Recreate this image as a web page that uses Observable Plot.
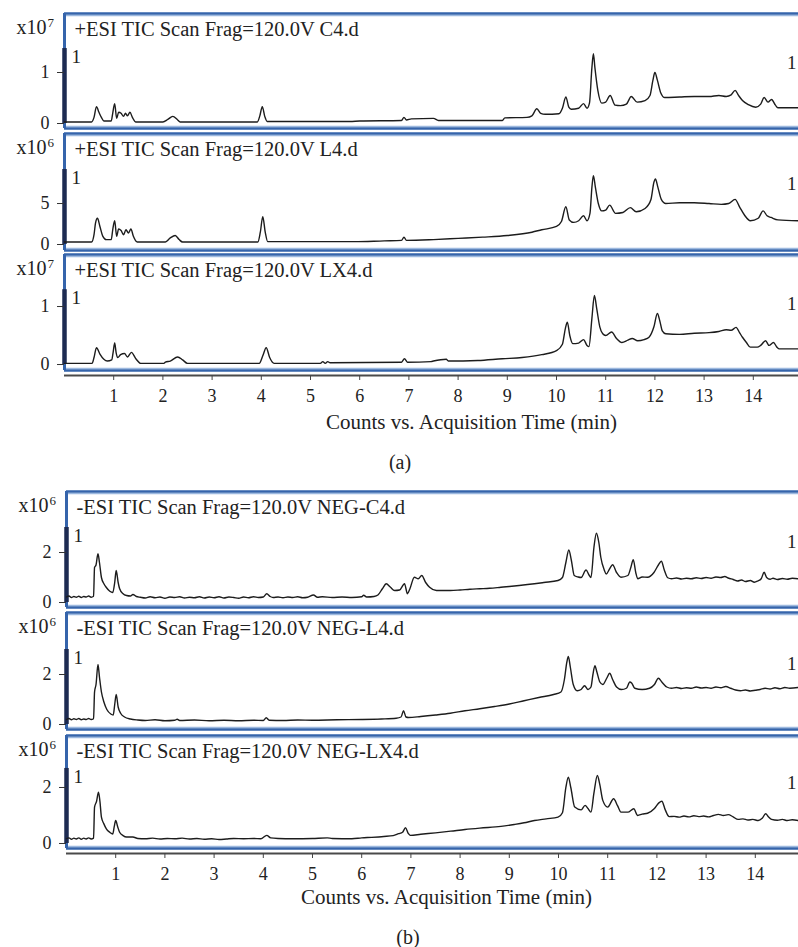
<!DOCTYPE html>
<html><head><meta charset="utf-8">
<script src="https://cdn.jsdelivr.net/npm/d3@7"></script>
<script src="https://cdn.jsdelivr.net/npm/@observablehq/plot@0.6"></script>
<style>
body{margin:0;background:#fff;}
#chart{position:relative;width:798px;height:947px;overflow:hidden;font-family:"Liberation Serif","DejaVu Serif",serif;color:#222;}
#chart svg{position:absolute;left:0;}
.cap{position:absolute;font-size:20px;transform:translate(-50%,-50%);white-space:nowrap;}
</style></head><body><div id="chart"></div>
<script>
// ---------- DATA (time in min, counts in panel units x10^n) ----------
const panelTitles = [
  "+ESI TIC Scan Frag=120.0V C4.d",
  "+ESI TIC Scan Frag=120.0V L4.d",
  "+ESI TIC Scan Frag=120.0V LX4.d",
  "-ESI TIC Scan Frag=120.0V NEG-C4.d",
  "-ESI TIC Scan Frag=120.0V NEG-L4.d",
  "-ESI TIC Scan Frag=120.0V NEG-LX4.d"
];
const exponents = ["7","6","7","6","6","6"];
const yTicks = [[0,1],[0,5],[0,1],[0,2],[0,2],[0,2]];
const xTicks = [1,2,3,4,5,6,7,8,9,10,11,12,13,14];
const axisTitle = "Counts vs. Acquisition Time (min)";
const groupLabels = ["(a)","(b)"];

const posC4 = [[0,0.03],[0.55,0.03],[0.6,0.12],[0.65,0.33],[0.7,0.22],[0.75,0.12],[0.8,0.05],[0.95,0.05],[0.98,0.2],[1.02,0.39],[1.06,0.1],[1.1,0.22],[1.15,0.2],[1.2,0.14],[1.24,0.2],[1.28,0.15],[1.33,0.22],[1.38,0.12],[1.45,0.03],[2.0,0.03],[2.1,0.08],[2.2,0.14],[2.3,0.07],[2.35,0.03],[3.92,0.03],[3.97,0.15],[4.02,0.33],[4.07,0.14],[4.12,0.04],[5.8,0.04],[6.0,0.05],[6.85,0.06],[6.9,0.12],[6.95,0.07],[7.05,0.09],[7.5,0.1],[7.6,0.06],[8.9,0.06],[8.95,0.11],[9.4,0.12],[9.5,0.15],[9.6,0.29],[9.68,0.2],[9.77,0.18],[10.05,0.19],[10.12,0.3],[10.19,0.52],[10.25,0.32],[10.3,0.28],[10.45,0.3],[10.55,0.39],[10.62,0.3],[10.67,0.4],[10.72,1.1],[10.75,1.37],[10.78,1.1],[10.84,0.65],[10.92,0.4],[11.0,0.42],[11.09,0.55],[11.19,0.36],[11.3,0.35],[11.42,0.38],[11.52,0.53],[11.64,0.42],[11.8,0.45],[11.9,0.55],[11.96,0.85],[12.0,1.0],[12.05,0.85],[12.12,0.6],[12.2,0.51],[12.5,0.52],[12.8,0.53],[13.1,0.53],[13.3,0.55],[13.45,0.53],[13.55,0.56],[13.63,0.65],[13.7,0.55],[13.78,0.45],[13.9,0.37],[14.05,0.32],[14.15,0.38],[14.22,0.51],[14.3,0.42],[14.37,0.47],[14.45,0.36],[14.5,0.31],[14.92,0.31]];

const posL4 = [[0,0.3],[0.55,0.3],[0.6,1.2],[0.63,2.6],[0.67,3.2],[0.72,2.2],[0.78,1.0],[0.85,0.6],[0.95,0.6],[0.98,1.8],[1.02,2.9],[1.06,1.0],[1.1,1.9],[1.15,1.7],[1.2,1.2],[1.25,1.8],[1.3,1.4],[1.35,1.9],[1.4,1.0],[1.48,0.3],[2.05,0.3],[2.15,0.8],[2.25,1.1],[2.33,0.6],[2.4,0.3],[3.93,0.3],[3.98,1.5],[4.03,3.4],[4.08,1.5],[4.13,0.35],[5.9,0.35],[6.5,0.45],[6.85,0.5],[6.9,0.9],[6.95,0.5],[7.5,0.6],[8.0,0.75],[8.5,0.9],[9.0,1.1],[9.5,1.5],[9.7,1.8],[10.0,2.2],[10.1,2.8],[10.19,4.6],[10.26,3.0],[10.35,2.7],[10.45,2.9],[10.55,3.5],[10.62,2.9],[10.68,3.8],[10.72,7.0],[10.75,8.4],[10.79,7.0],[10.85,5.0],[10.92,4.1],[11.0,4.2],[11.08,4.8],[11.2,3.8],[11.35,3.9],[11.5,4.5],[11.62,4.0],[11.8,4.4],[11.92,5.5],[11.98,7.6],[12.01,8.0],[12.06,7.0],[12.13,5.5],[12.22,5.0],[12.5,5.1],[12.8,5.1],[13.1,5.0],[13.35,4.9],[13.5,5.0],[13.63,5.5],[13.72,4.6],[13.82,3.6],[13.94,2.9],[14.1,3.2],[14.2,4.1],[14.28,3.5],[14.36,3.3],[14.5,3.0],[14.92,2.9]];

const posLX4 = [[0,0.02],[0.56,0.02],[0.6,0.12],[0.65,0.29],[0.72,0.18],[0.8,0.09],[0.87,0.06],[0.96,0.08],[0.99,0.22],[1.02,0.37],[1.05,0.2],[1.08,0.12],[1.14,0.17],[1.22,0.19],[1.28,0.13],[1.36,0.21],[1.45,0.1],[1.55,0.02],[2.02,0.02],[2.05,0.04],[2.15,0.06],[2.3,0.13],[2.4,0.08],[2.5,0.02],[3.96,0.02],[4.03,0.15],[4.1,0.29],[4.17,0.12],[4.26,0.02],[5.2,0.02],[5.25,0.05],[5.3,0.02],[5.35,0.05],[5.4,0.03],[6.85,0.04],[6.91,0.1],[6.97,0.04],[7.45,0.05],[7.5,0.06],[7.76,0.09],[7.8,0.06],[8.4,0.07],[8.9,0.1],[9.3,0.12],[9.7,0.17],[10.0,0.24],[10.12,0.35],[10.18,0.62],[10.22,0.73],[10.27,0.5],[10.33,0.36],[10.45,0.37],[10.55,0.43],[10.62,0.33],[10.66,0.31],[10.72,0.8],[10.77,1.19],[10.82,0.95],[10.88,0.65],[10.94,0.53],[11.0,0.5],[11.12,0.56],[11.22,0.45],[11.33,0.38],[11.45,0.42],[11.54,0.45],[11.65,0.41],[11.78,0.43],[11.88,0.47],[11.98,0.65],[12.05,0.88],[12.1,0.75],[12.15,0.58],[12.22,0.53],[12.5,0.52],[12.8,0.54],[13.1,0.55],[13.3,0.57],[13.45,0.6],[13.55,0.59],[13.65,0.64],[13.72,0.55],[13.78,0.47],[13.86,0.38],[13.94,0.3],[14.08,0.3],[14.15,0.33],[14.25,0.41],[14.32,0.33],[14.41,0.38],[14.48,0.3],[14.53,0.27],[14.92,0.27]];

const negC4 = [[0,0.22],[0.05,0.26],[0.1,0.2],[0.15,0.24],[0.2,0.21],[0.25,0.25],[0.3,0.2],[0.35,0.24],[0.4,0.22],[0.45,0.26],[0.5,0.21],[0.55,0.25],[0.57,1.4],[0.6,1.5],[0.64,1.95],[0.67,1.6],[0.71,1.0],[0.76,0.75],[0.81,0.6],[0.88,0.45],[0.94,0.4],[0.98,0.8],[1.01,1.28],[1.05,0.8],[1.08,0.55],[1.15,0.35],[1.22,0.28],[1.3,0.26],[1.35,0.32],[1.42,0.24],[1.5,0.21],[1.6,0.18],[1.7,0.23],[1.8,0.19],[1.9,0.22],[2.0,0.17],[2.1,0.22],[2.2,0.2],[2.3,0.23],[2.4,0.18],[2.5,0.21],[2.6,0.19],[2.7,0.23],[2.8,0.18],[2.9,0.22],[3.0,0.19],[3.1,0.23],[3.2,0.18],[3.3,0.22],[3.4,0.2],[3.5,0.17],[3.6,0.22],[3.7,0.19],[3.8,0.23],[3.9,0.2],[4.0,0.22],[4.07,0.35],[4.14,0.24],[4.2,0.2],[4.3,0.22],[4.4,0.19],[4.5,0.22],[4.6,0.2],[4.7,0.23],[4.8,0.19],[4.9,0.21],[5.02,0.3],[5.1,0.21],[5.2,0.23],[5.4,0.2],[5.6,0.22],[5.8,0.2],[6.0,0.23],[6.04,0.29],[6.1,0.22],[6.25,0.24],[6.33,0.3],[6.42,0.55],[6.5,0.75],[6.58,0.62],[6.67,0.48],[6.77,0.5],[6.87,0.75],[6.93,0.35],[6.98,0.55],[7.07,1.01],[7.15,0.95],[7.22,1.08],[7.3,0.8],[7.38,0.61],[7.52,0.48],[7.8,0.48],[8.0,0.5],[8.2,0.53],[8.4,0.55],[8.6,0.57],[8.83,0.61],[9.0,0.64],[9.2,0.68],[9.51,0.75],[9.7,0.8],[9.99,0.88],[10.08,1.0],[10.15,1.6],[10.21,2.1],[10.26,1.7],[10.32,1.08],[10.4,1.02],[10.46,1.0],[10.56,1.3],[10.62,1.1],[10.66,1.0],[10.72,2.2],[10.77,2.77],[10.82,2.4],[10.86,1.81],[10.93,1.3],[10.97,1.14],[11.04,1.35],[11.1,1.51],[11.18,1.2],[11.27,1.01],[11.41,1.08],[11.47,1.4],[11.52,1.71],[11.57,1.2],[11.61,0.95],[11.7,1.02],[11.81,1.01],[11.94,1.2],[12.03,1.5],[12.09,1.65],[12.15,1.3],[12.22,0.99],[12.3,0.95],[12.4,0.98],[12.5,0.94],[12.6,0.97],[12.7,0.95],[12.8,0.99],[12.9,0.96],[13.0,1.0],[13.1,0.97],[13.2,1.02],[13.3,1.0],[13.38,1.04],[13.45,0.98],[13.55,0.92],[13.64,0.86],[13.72,0.9],[13.8,0.84],[13.9,0.88],[13.98,0.81],[14.05,0.86],[14.12,0.95],[14.18,1.21],[14.23,1.0],[14.3,0.93],[14.36,0.97],[14.45,0.92],[14.55,0.96],[14.65,0.93],[14.75,0.97],[14.88,0.95]];

const negL4 = [[0,0.2],[0.05,0.24],[0.1,0.19],[0.15,0.23],[0.2,0.2],[0.25,0.24],[0.3,0.19],[0.35,0.22],[0.4,0.2],[0.45,0.24],[0.5,0.2],[0.55,0.23],[0.57,1.3],[0.6,1.6],[0.64,2.4],[0.67,1.9],[0.71,1.3],[0.76,0.9],[0.82,0.6],[0.9,0.42],[0.95,0.38],[0.98,0.8],[1.01,1.2],[1.05,0.7],[1.1,0.45],[1.18,0.3],[1.3,0.22],[1.45,0.18],[1.6,0.16],[1.8,0.19],[2.0,0.15],[2.2,0.17],[2.25,0.21],[2.3,0.16],[2.6,0.18],[2.9,0.15],[3.2,0.17],[3.5,0.15],[3.8,0.17],[4.0,0.16],[4.06,0.27],[4.12,0.17],[4.4,0.16],[4.7,0.18],[5.0,0.17],[5.5,0.19],[6.0,0.2],[6.4,0.22],[6.7,0.25],[6.8,0.3],[6.85,0.55],[6.9,0.3],[6.95,0.28],[7.2,0.32],[7.5,0.38],[7.8,0.45],[8.1,0.55],[8.4,0.63],[8.7,0.72],[9.0,0.82],[9.3,0.95],[9.6,1.08],[9.9,1.2],[10.05,1.3],[10.12,1.8],[10.17,2.5],[10.2,2.72],[10.24,2.3],[10.3,1.6],[10.38,1.35],[10.46,1.4],[10.53,1.55],[10.6,1.4],[10.66,1.5],[10.7,2.0],[10.74,2.35],[10.78,2.1],[10.84,1.7],[10.9,1.6],[10.98,1.85],[11.04,2.05],[11.1,1.8],[11.18,1.5],[11.28,1.4],[11.38,1.45],[11.45,1.7],[11.49,1.65],[11.55,1.45],[11.7,1.4],[11.85,1.45],[11.95,1.6],[12.03,1.85],[12.1,1.7],[12.2,1.5],[12.3,1.45],[12.4,1.48],[12.5,1.44],[12.6,1.47],[12.7,1.45],[12.8,1.5],[12.9,1.46],[13.0,1.48],[13.1,1.45],[13.2,1.5],[13.3,1.47],[13.4,1.52],[13.5,1.45],[13.6,1.38],[13.7,1.35],[13.8,1.38],[13.9,1.34],[14.0,1.37],[14.1,1.4],[14.2,1.45],[14.3,1.42],[14.4,1.47],[14.5,1.43],[14.6,1.48],[14.7,1.45],[14.88,1.48]];

const negLX4 = [[0,0.17],[0.05,0.2],[0.1,0.15],[0.15,0.19],[0.2,0.16],[0.25,0.2],[0.3,0.15],[0.35,0.19],[0.4,0.16],[0.45,0.2],[0.5,0.16],[0.55,0.19],[0.57,1.3],[0.61,1.5],[0.65,1.83],[0.68,1.5],[0.71,0.94],[0.76,0.7],[0.81,0.52],[0.88,0.4],[0.94,0.34],[0.97,0.6],[1.0,0.82],[1.04,0.6],[1.08,0.4],[1.15,0.28],[1.22,0.23],[1.35,0.23],[1.45,0.18],[1.6,0.17],[1.75,0.19],[1.9,0.16],[2.05,0.18],[2.2,0.17],[2.35,0.19],[2.5,0.16],[2.65,0.18],[2.8,0.15],[2.95,0.17],[3.1,0.14],[3.25,0.16],[3.4,0.18],[3.6,0.17],[3.8,0.18],[3.95,0.17],[4.07,0.29],[4.15,0.2],[4.3,0.18],[4.6,0.17],[5.0,0.18],[5.3,0.2],[5.4,0.18],[5.8,0.17],[6.0,0.2],[6.2,0.22],[6.45,0.25],[6.64,0.28],[6.75,0.35],[6.83,0.4],[6.89,0.56],[6.95,0.35],[6.99,0.29],[7.2,0.33],[7.5,0.38],[7.81,0.44],[8.1,0.5],[8.4,0.55],[8.83,0.61],[9.1,0.68],[9.3,0.74],[9.51,0.82],[9.75,0.88],[9.99,0.94],[10.08,1.1],[10.15,2.0],[10.2,2.37],[10.25,2.0],[10.33,1.3],[10.46,1.2],[10.54,1.36],[10.6,1.25],[10.66,1.12],[10.72,1.8],[10.79,2.43],[10.84,2.1],[10.9,1.54],[11.0,1.3],[11.12,1.6],[11.2,1.35],[11.27,1.12],[11.41,1.12],[11.53,1.24],[11.61,1.0],[11.7,1.05],[11.81,1.08],[11.95,1.25],[12.04,1.45],[12.1,1.51],[12.17,1.2],[12.25,0.96],[12.35,0.97],[12.45,0.94],[12.55,0.98],[12.65,0.95],[12.75,0.99],[12.85,0.96],[12.95,0.98],[13.05,0.95],[13.15,1.0],[13.25,1.04],[13.35,1.0],[13.45,1.03],[13.55,0.95],[13.65,0.86],[13.75,0.88],[13.85,0.84],[13.95,0.86],[14.06,0.82],[14.14,0.9],[14.21,1.06],[14.27,0.95],[14.33,0.86],[14.45,0.83],[14.55,0.86],[14.65,0.82],[14.75,0.85],[14.88,0.82]];

const series = [posC4, posL4, posLX4, negC4, negL4, negLX4];

// ---------- LAYOUT ----------
const PX_PER_MIN = 49.2;
const layout = [
  {top:0,   height:130, mt:13, mb:2,  ml:64, y:[-0.098,2.157], bar:1.47},
  {top:130, height:122, mt:3,  mb:2,  ml:64, y:[-0.73,13.54],  bar:9.15},
  {top:252, height:188, mt:2,  mb:70, ml:64, y:[-0.103,1.897], bar:1.29, axis:true, titleDx:40, tickDy:5, titleDy:52},
  {top:488, height:121, mt:3,  mb:2,  ml:66, y:[-0.2,4.44],    bar:3.0},
  {top:609, height:123, mt:3,  mb:3,  ml:66, y:[-0.2,4.48],    bar:3.0},
  {top:732, height:183, mt:3,  mb:67, ml:66, y:[-0.179,3.857], bar:2.68, axis:true, titleDx:14, tickDy:5, titleDy:49}
];
const BLUE = "#3564ab", LIGHT = "#9db9df", BAR = "#1d2b52", INK = "#222";

const chart = document.getElementById("chart");

layout.forEach((L, i) => {
  const xmax = (798 - L.ml) / PX_PER_MIN;
  const marks = [
    Plot.ruleY([L.y[1]], {dy: 2, stroke: LIGHT, strokeWidth: 1.5}),
    Plot.ruleY([L.y[0]], {dy: -2, stroke: LIGHT, strokeWidth: 1.5}),
    Plot.ruleY([L.y[1]], {stroke: BLUE, strokeWidth: 2.5}),
    Plot.ruleY([L.y[0]], {stroke: BLUE, strokeWidth: 2.5}),
    Plot.ruleX([0], {stroke: BLUE, strokeWidth: 3}),
    Plot.ruleX([0], {y1: 0, y2: L.bar, stroke: BAR, strokeWidth: 4.5}),
    Plot.axisY({ticks: yTicks[i], tickFormat: d => String(d), tickSize: 7, tickPadding: 8, fontSize: 18, label: null, stroke: "#333", fill: INK}),
    Plot.line(series[i], {x: d => d[0], y: d => d[1], curve: "monotone-x", stroke: "#1c1c1c", strokeWidth: 1.4}),
    Plot.text([panelTitles[i]], {frameAnchor: "top-left", dx: 10, dy: 8, lineAnchor: "top", textAnchor: "start", fontSize: 20.5, fill: INK}),
    Plot.text(["x10"], {frameAnchor: "top-left", dx: -18, dy: 20, lineAnchor: "bottom", textAnchor: "end", fontSize: 20, fill: INK}),
    Plot.text([exponents[i]], {frameAnchor: "top-left", dx: -17, dy: 13, lineAnchor: "bottom", textAnchor: "start", fontSize: 13, fill: INK}),
    Plot.text(["1"], {x: 0, y: L.bar, dx: 7, dy: 1, lineAnchor: "top", textAnchor: "start", fontSize: 19, fill: INK}),
    Plot.text(["1"], {x: xmax, y: L.bar, dx: -2, dy: 7, lineAnchor: "top", textAnchor: "end", fontSize: 19, fill: INK})
  ];
  if (L.axis) {
    marks.push(
      Plot.ruleY([L.y[0]], {dy: L.tickDy, stroke: "#4a4a4a", strokeWidth: 2}),
      Plot.axisX({ticks: xTicks, tickFormat: d => String(d), tickSize: 5, tickPadding: 9, dy: L.tickDy, fontSize: 18, label: null, stroke: "#444", fill: INK}),
      Plot.text([axisTitle], {frameAnchor: "bottom", dx: L.titleDx, dy: L.titleDy, lineAnchor: "middle", fontSize: 21, fill: INK})
    );
  }
  const svg = Plot.plot({
    width: 798, height: L.height,
    marginTop: L.mt, marginBottom: L.mb, marginLeft: L.ml, marginRight: 0,
    x: {domain: [0, xmax], axis: L.axis ? undefined : null},
    y: {domain: L.y},
    style: {fontFamily: '"Liberation Serif", "DejaVu Serif", serif', color: INK, background: "transparent", overflow: "visible"},
    marks
  });
  svg.style.top = L.top + "px";
  chart.appendChild(svg);
});

const caps = [{text: groupLabels[0], x: 400, y: 462}, {text: groupLabels[1], x: 408, y: 937}];
caps.forEach(c => {
  const d = document.createElement("div");
  d.className = "cap";
  d.textContent = c.text;
  d.style.left = c.x + "px";
  d.style.top = c.y + "px";
  chart.appendChild(d);
});
</script></body></html>
